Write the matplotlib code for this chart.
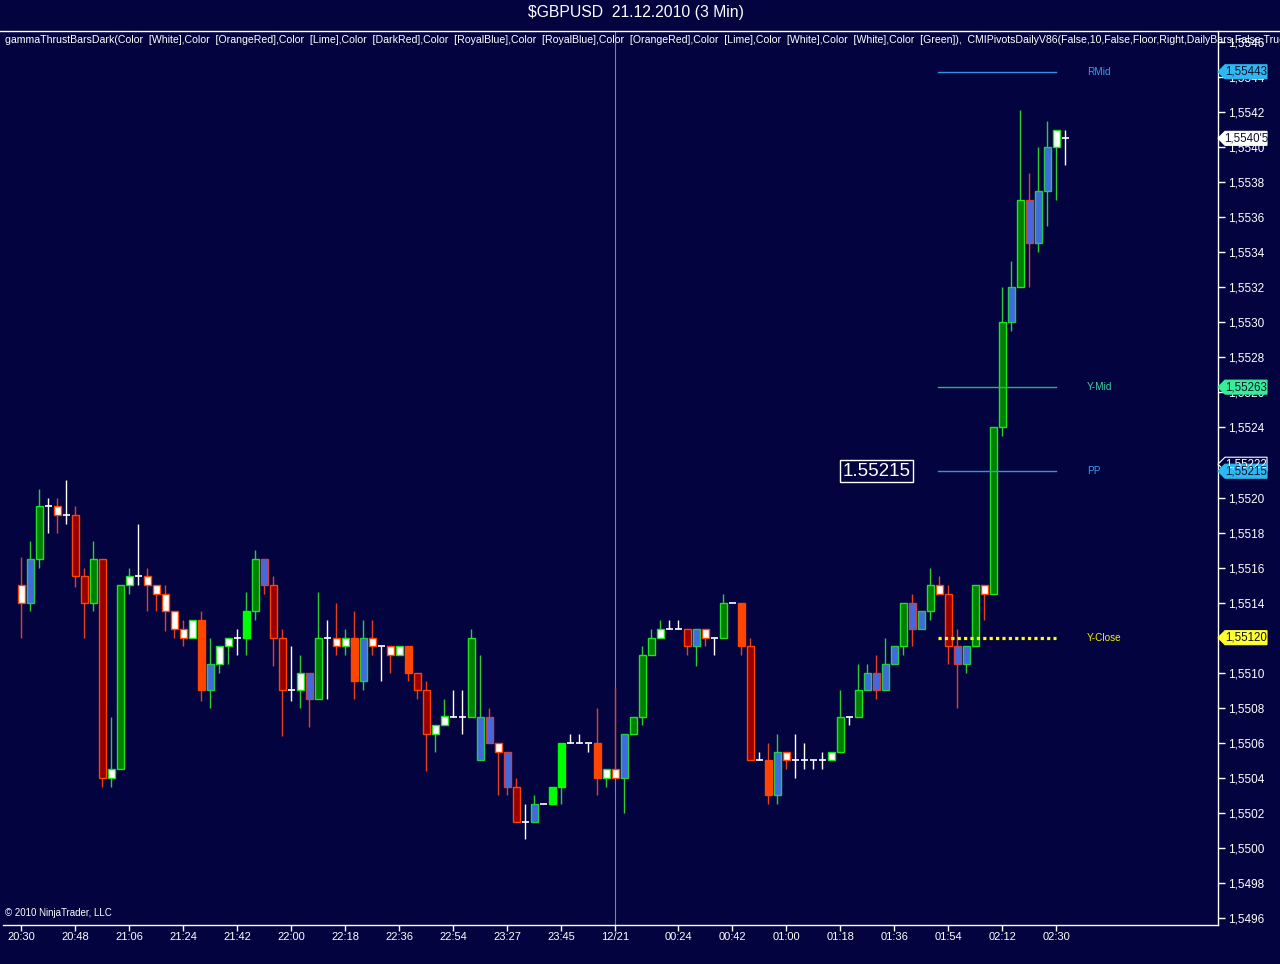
import numpy as np
import matplotlib.pyplot as plt
from matplotlib.patches import Rectangle, Polygon
from matplotlib.lines import Line2D
from matplotlib.transforms import blended_transform_factory

plt.rcParams['font.family'] = ['Liberation Sans', 'DejaVu Sans']

BG = '#03033f'

# 3 min bars, colour code from gammaThrustBars
kinds = ['WD', 'BU', 'G', 'X', 'WD', 'X', 'R', 'R', 'G', 'R',
         'WU', 'G', 'WU', 'X', 'WD', 'WD', 'WD', 'WD', 'WD', 'WU',
         'O', 'BU', 'WU', 'WU', 'X', 'L', 'G', 'BD', 'R', 'R',
         'X', 'WU', 'BD', 'G', 'X', 'WD', 'WU', 'O', 'BU', 'WD',
         'X', 'WD', 'WU', 'O', 'R', 'R', 'WU', 'WU', 'X', 'X',
         'G', 'BU', 'BD', 'WD', 'BD', 'R', 'X', 'BU', 'X', 'L',
         'L', 'X', 'X', 'X', 'O', 'WU', 'WD', 'BU', 'G', 'G',
         'G', 'WU', 'X', 'X', 'R', 'BU', 'WD', 'X', 'G', 'X',
         'O', 'R', 'X', 'O', 'BU', 'WD', 'X', 'X', 'X', 'X',
         'WU', 'G', 'X', 'G', 'BU', 'BD', 'BU', 'BU', 'G', 'BD',
         'BU', 'G', 'WD', 'R', 'BD', 'BU', 'G', 'WD', 'G', 'G',
         'BU', 'G', 'BD', 'BU', 'BU', 'WU', 'X']

opens = [1.55150, 1.55140, 1.55165, 1.55195, 1.55195, 1.55190, 1.55190, 1.55155, 1.55140, 1.55165,
         1.55040, 1.55045, 1.55150, 1.55155, 1.55155, 1.55150, 1.55145, 1.55135, 1.55125, 1.55120,
         1.55130, 1.55090, 1.55105, 1.55115, 1.55120, 1.55120, 1.55135, 1.55165, 1.55150, 1.55120,
         1.55090, 1.55090, 1.55100, 1.55085, 1.55120, 1.55120, 1.55115, 1.55120, 1.55095, 1.55120,
         1.55115, 1.55115, 1.55110, 1.55115, 1.55100, 1.55090, 1.55065, 1.55070, 1.55075, 1.55075,
         1.55075, 1.55050, 1.55075, 1.55060, 1.55055, 1.55035, 1.55015, 1.55015, 1.55025, 1.55025,
         1.55035, 1.55060, 1.55060, 1.55060, 1.55060, 1.55040, 1.55045, 1.55040, 1.55065, 1.55075,
         1.55110, 1.55120, 1.55125, 1.55125, 1.55125, 1.55115, 1.55125, 1.55120, 1.55120, 1.55140,
         1.55140, 1.55115, 1.55050, 1.55050, 1.55030, 1.55055, 1.55050, 1.55050, 1.55050, 1.55050,
         1.55050, 1.55055, 1.55075, 1.55075, 1.55090, 1.55100, 1.55090, 1.55105, 1.55115, 1.55140,
         1.55125, 1.55135, 1.55150, 1.55145, 1.55115, 1.55105, 1.55115, 1.55150, 1.55145, 1.55240,
         1.55300, 1.55320, 1.55370, 1.55345, 1.55375, 1.55400, 1.55405]

closes = [1.55140, 1.55165, 1.55195, 1.55195, 1.55190, 1.55190, 1.55155, 1.55140, 1.55165, 1.55040,
          1.55045, 1.55150, 1.55155, 1.55155, 1.55150, 1.55145, 1.55135, 1.55125, 1.55120, 1.55130,
          1.55090, 1.55105, 1.55115, 1.55120, 1.55120, 1.55135, 1.55165, 1.55150, 1.55120, 1.55090,
          1.55090, 1.55100, 1.55085, 1.55120, 1.55120, 1.55115, 1.55120, 1.55095, 1.55120, 1.55115,
          1.55115, 1.55110, 1.55115, 1.55100, 1.55090, 1.55065, 1.55070, 1.55075, 1.55075, 1.55075,
          1.55120, 1.55075, 1.55060, 1.55055, 1.55035, 1.55015, 1.55015, 1.55025, 1.55025, 1.55035,
          1.55060, 1.55060, 1.55060, 1.55060, 1.55040, 1.55045, 1.55040, 1.55065, 1.55075, 1.55110,
          1.55120, 1.55125, 1.55125, 1.55125, 1.55115, 1.55125, 1.55120, 1.55120, 1.55140, 1.55140,
          1.55115, 1.55050, 1.55050, 1.55030, 1.55055, 1.55050, 1.55050, 1.55050, 1.55050, 1.55050,
          1.55055, 1.55075, 1.55075, 1.55090, 1.55100, 1.55090, 1.55105, 1.55115, 1.55140, 1.55125,
          1.55135, 1.55150, 1.55145, 1.55115, 1.55105, 1.55115, 1.55150, 1.55145, 1.55240, 1.55300,
          1.55320, 1.55370, 1.55345, 1.55375, 1.55400, 1.55410, 1.55405]

highs = [1.55166, 1.55175, 1.55205, 1.55200, 1.55200, 1.55210, 1.55195, 1.55160, 1.55175, 1.55165,
         1.55075, 1.55150, 1.55160, 1.55185, 1.55160, 1.55150, 1.55150, 1.55135, 1.55130, 1.55130,
         1.55135, 1.55120, 1.55115, 1.55120, 1.55125, 1.55146, 1.55170, 1.55165, 1.55155, 1.55125,
         1.55115, 1.55110, 1.55100, 1.55146, 1.55130, 1.55140, 1.55125, 1.55135, 1.55130, 1.55130,
         1.55115, 1.55115, 1.55115, 1.55115, 1.55100, 1.55095, 1.55070, 1.55085, 1.55090, 1.55090,
         1.55125, 1.55110, 1.55080, 1.55060, 1.55055, 1.55040, 1.55025, 1.55030, 1.55025, 1.55035,
         1.55060, 1.55065, 1.55065, 1.55060, 1.55080, 1.55045, 1.55092, 1.55065, 1.55075, 1.55115,
         1.55125, 1.55130, 1.55130, 1.55130, 1.55125, 1.55125, 1.55125, 1.55120, 1.55145, 1.55140,
         1.55140, 1.55120, 1.55055, 1.55060, 1.55065, 1.55055, 1.55065, 1.55060, 1.55050, 1.55055,
         1.55055, 1.55090, 1.55075, 1.55105, 1.55105, 1.55110, 1.55120, 1.55115, 1.55140, 1.55145,
         1.55135, 1.55160, 1.55155, 1.55150, 1.55125, 1.55115, 1.55150, 1.55150, 1.55240, 1.55320,
         1.55335, 1.55421, 1.55385, 1.55400, 1.55415, 1.55410, 1.55410]

lows = [1.55120, 1.55135, 1.55160, 1.55180, 1.55180, 1.55185, 1.55149, 1.55120, 1.55135, 1.55035,
        1.55035, 1.55045, 1.55145, 1.55150, 1.55135, 1.55135, 1.55124, 1.55120, 1.55115, 1.55120,
        1.55084, 1.55080, 1.55100, 1.55105, 1.55110, 1.55110, 1.55130, 1.55145, 1.55104, 1.55064,
        1.55084, 1.55080, 1.55069, 1.55085, 1.55085, 1.55110, 1.55110, 1.55085, 1.55090, 1.55110,
        1.55095, 1.55100, 1.55110, 1.55095, 1.55085, 1.55044, 1.55055, 1.55070, 1.55075, 1.55065,
        1.55075, 1.55050, 1.55060, 1.55030, 1.55030, 1.55015, 1.55005, 1.55015, 1.55025, 1.55025,
        1.55025, 1.55060, 1.55060, 1.55055, 1.55030, 1.55035, 1.55040, 1.55020, 1.55065, 1.55070,
        1.55110, 1.55120, 1.55125, 1.55125, 1.55110, 1.55104, 1.55115, 1.55110, 1.55120, 1.55140,
        1.55110, 1.55050, 1.55050, 1.55025, 1.55025, 1.55045, 1.55040, 1.55045, 1.55045, 1.55045,
        1.55050, 1.55055, 1.55070, 1.55075, 1.55090, 1.55085, 1.55090, 1.55105, 1.55110, 1.55115,
        1.55125, 1.55130, 1.55145, 1.55105, 1.55080, 1.55100, 1.55115, 1.55130, 1.55145, 1.55235,
        1.55295, 1.55320, 1.55320, 1.55340, 1.55355, 1.55370, 1.55390]

tick_idx = [0, 6, 12, 18, 24, 30, 36, 42, 48, 54, 60, 66, 73, 79, 85, 91, 97, 103, 109, 115]
tick_lbl = ['20:30', '20:48', '21:06', '21:24', '21:42', '22:00', '22:18', '22:36', '22:54',
            '23:27', '23:45', '12/21', '00:24', '00:42', '01:00', '01:18', '01:36', '01:54',
            '02:12', '02:30']
day_break = 66

pivot_names = ['RMid', 'Y-Mid', 'PP', 'Y-Close']
pivot_vals = [1.55443, 1.55263, 1.55215, 1.55120]
pivot_line_col = ['#2f95dd', '#2db36e', '#2f95dd', '#ffff00']
pivot_text_col = ['#3a9cf2', '#3ad6a0', '#3a9cf2', '#f2f200']
pivot_start, pivot_end = 101.9, 115.0

last_price = 1.55405
marker_vals = [1.55443, last_price, 1.55263, 1.55215, 1.55120]
marker_txt = ['1,55443', "1,5540'5", '1,55263', '1,55215', '1,55120']
marker_fc = ['#2cb9f2', '#ffffff', '#36ee96', '#2cb9f2', '#ffff30']

legend_str = ('gammaThrustBarsDark(Color  [White],Color  [OrangeRed],Color  [Lime],Color  [DarkRed],'
              'Color  [RoyalBlue],Color  [RoyalBlue],Color  [OrangeRed],Color  [Lime],Color  [White],'
              'Color  [White],Color  [Green]),  CMIPivotsDailyV86(False,10,False,Floor,Right,DailyBars,'
              'False,True,True)')

# fill / edge per bar kind
style = {
    'G': ('#008000', '#22e022'),
    'L': ('#00ff00', '#00ff00'),
    'R': ('#980000', '#ff4500'),
    'O': ('#ff4500', '#ff4500'),
    'BU': ('#4169e1', '#22cc44'),
    'BD': ('#4169e1', '#d04040'),
    'WU': ('#ffffff', '#22e022'),
    'WD': ('#ffffff', '#ff4500'),
}
up_kinds = ['G', 'L', 'BU', 'WU']

W, H = 1280, 964
L, R, T, B = 3, 1218, 31, 925
x0, dx = 21.3, 9.0           # pixel of first bar, bar spacing
ppx = 1e-4 / 17.52           # price per pixel

fig = plt.figure(figsize=(W / 100, H / 100), dpi=100, facecolor=BG)
ax = fig.add_axes([L / W, 1 - B / H, (R - L) / W, (B - T) / H], facecolor=BG)
ax.set_xlim((L - x0) / dx, (R - x0) / dx)
ax.set_ylim(1.5520 - (B - 497.5) * ppx, 1.5520 + (497.5 - T) * ppx)

for s in ['left', 'top']:
    ax.spines[s].set_visible(False)
for s in ['right', 'bottom']:
    ax.spines[s].set_color('white')
    ax.spines[s].set_linewidth(1)

ax.axvline(day_break, color='#70907a', lw=0.8, zorder=1)

bw = 0.72
for i, k in enumerate(kinds):
    o, h, l, c = opens[i], highs[i], lows[i], closes[i]
    if k == 'X':
        ax.vlines(i, l, h, color='white', lw=1.0, zorder=2)
        ax.hlines(c, i - bw / 2, i + bw / 2, color='white', lw=1.2, zorder=2)
        continue
    fc, ec = style[k]
    wc = '#2ecc2e' if k in up_kinds else '#e8401c'
    ax.vlines(i, l, h, color=wc, lw=1.0, zorder=2)
    ax.add_patch(Rectangle((i - bw / 2, min(o, c)), bw, abs(c - o),
                           fc=fc, ec=ec, lw=1.0, zorder=3))

# pivots
for name, v, lc, tc in zip(pivot_names, pivot_vals, pivot_line_col, pivot_text_col):
    if name == 'Y-Close':
        ax.plot([pivot_start, pivot_end], [v, v], color=lc, lw=2.3, ls=(0, (1, 1)), zorder=4)
    else:
        ax.plot([pivot_start, pivot_end], [v, v], color=lc, lw=1.0, zorder=4)
    ax.text(118.4, v, name, color=tc, fontsize=7.2, va='center', ha='left')

ax.text(95.0, pivot_vals[2], '1.55215', color='white', fontsize=13.5, ha='center', va='center',
        bbox=dict(boxstyle='square,pad=0.12', fc=BG, ec='white', lw=1), zorder=5)

# axes
ax.yaxis.tick_right()
yt = np.round(np.arange(1.5496, 1.55461, 0.0002), 4)
ax.set_yticks(yt)
ax.set_yticklabels([f'{v:.4f}'.replace('.', ',') for v in yt])
ax.set_xticks(tick_idx)
ax.set_xticklabels(tick_lbl)
ax.tick_params(axis='y', colors='white', length=5, width=1, labelsize=8.5, pad=2)
ax.tick_params(axis='x', colors='white', length=4, width=1, labelsize=8, pad=1)

# price markers on the right scale
trans = blended_transform_factory(ax.transAxes, ax.transData)
hh = 7 * ppx
def axfrac(px):
    return (px - L) / (R - L)

def marker(v, txt, fc, ec, tc):
    pts = [(axfrac(R), v), (axfrac(R + 7), v + hh), (axfrac(1267), v + hh),
           (axfrac(1267), v - hh), (axfrac(R + 7), v - hh)]
    ax.add_patch(Polygon(pts, closed=True, fc=fc, ec=ec, lw=0.8, transform=trans,
                         clip_on=False, zorder=6))
    ax.text(axfrac(1246), v, txt, color=tc, fontsize=8.3, ha='center', va='center',
            transform=trans, clip_on=False, zorder=7)

marker(1.55219, '1,55222', BG, 'white', 'white')
for v, txt, fc in zip(marker_vals, marker_txt, marker_fc):
    marker(v, txt, fc, 'white' if fc == '#ffffff' else fc, '#101030')

# title, legend line, separators
fig.text(0.497, 1 - 13 / H, '\\$GBPUSD  21.12.2010 (3 Min)', color='white', fontsize=11.3,
         ha='center', va='center')
fig.add_artist(Line2D([0, 1], [1 - T / H, 1 - T / H], color='white', lw=1,
                      transform=fig.transFigure))
fig.text(5 / W, 1 - 40 / H, legend_str, color='white', fontsize=7.55, ha='left', va='center')
fig.text(5 / W, 1 - 913 / H, '\u00a9 2010 NinjaTrader, LLC', color='white', fontsize=7,
         ha='left', va='center')

fig.savefig('out.png', dpi=100, facecolor=BG)
